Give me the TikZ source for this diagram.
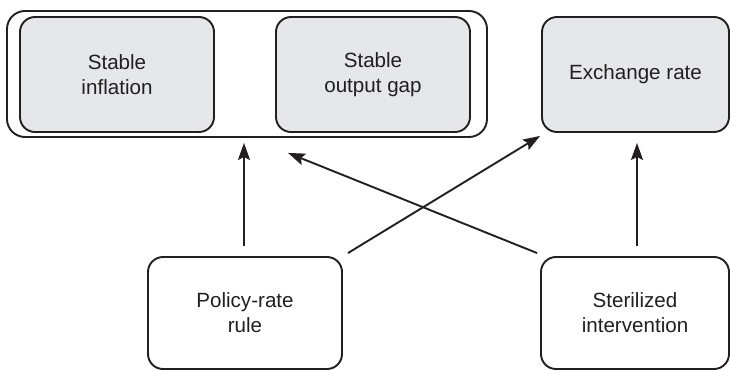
\documentclass[tikz,border=0pt]{standalone}
\usepackage{fontspec}
\setmainfont{Liberation Sans}
\usetikzlibrary{arrows.meta}
\definecolor{ink}{HTML}{231F20}
\definecolor{boxgray}{HTML}{E6E7E8}
\begin{document}
\begin{tikzpicture}[x=0.5pt,y=-0.5pt,
  base/.style={draw=ink, line width=0.95pt, rounded corners=7.5pt, align=center,
    text=ink, font=\fontsize{10.3}{12.5}\selectfont, inner sep=0pt},
  goalbox/.style={base, fill=boxgray},
  toolbox/.style={base, fill=white},
  outerbox/.style={draw=ink, line width=0.95pt, rounded corners=9pt, inner sep=0pt},
  arr/.style={draw=ink, line width=0.95pt, -{Stealth[length=8.5pt,width=6pt,inset=1.5pt]}}]
\useasboundingbox (0,0) rectangle (730,370);
\node[outerbox, minimum width=240pt, minimum height=63pt] (outer) at (247,74) {};
\node[goalbox, minimum width=97pt, minimum height=57.5pt] (infl) at (117,74.5) {Stable\\inflation};
\node[goalbox, minimum width=97pt, minimum height=57.5pt] (gap) at (373,74.5) {Stable\\output gap};
\node[goalbox, minimum width=93.5pt, minimum height=57.5pt] (exch) at (635.5,74.5) {Exchange rate};
\node[toolbox, minimum width=97pt, minimum height=56pt] (policy) at (245,313) {Policy-rate\\rule};
\node[toolbox, minimum width=94pt, minimum height=56pt] (steril) at (635,313) {Sterilized\\intervention};
\draw[arr] ([xshift=-0.5pt,yshift=5pt]policy.north) -- ([xshift=-0.5pt,yshift=-2.5pt]policy.north |- outer.south);
\draw[arr] ([xshift=2.5pt,yshift=1.5pt]policy.north east) -- ([xshift=-0.5pt,yshift=-1.5pt]exch.south west);
\draw[arr] ([xshift=-1.5pt,yshift=1.5pt]steril.north west) -- ([xshift=20.5pt,yshift=-7.5pt]outer.south);
\draw[arr] ([xshift=1pt,yshift=5pt]steril.north) -- ([xshift=1pt,yshift=-5pt]steril.north |- exch.south);
\end{tikzpicture}
\end{document}
